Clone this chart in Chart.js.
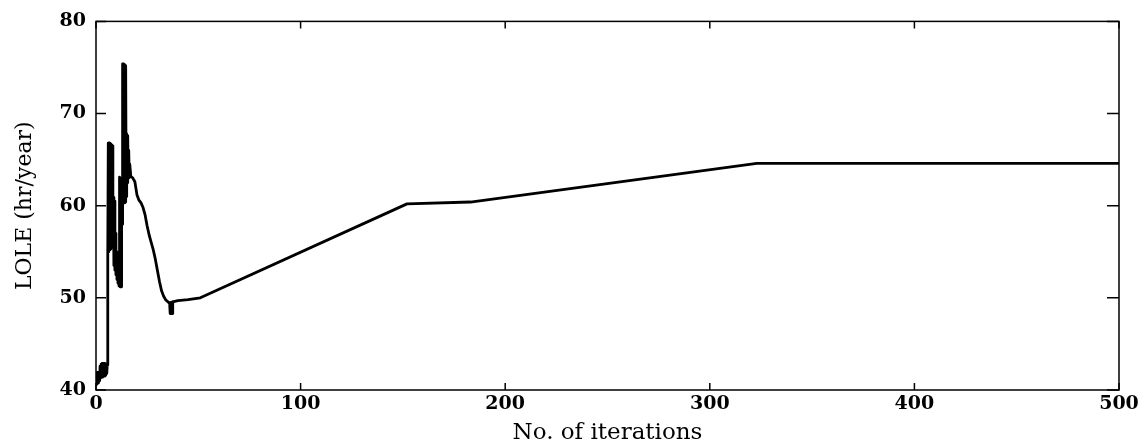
<!DOCTYPE html>
<html>
<head>
<meta charset="utf-8">
<script src="https://cdn.jsdelivr.net/npm/chart.js@4.4.0/dist/chart.umd.min.js"></script>
<style>
    html, body { margin: 0; padding: 0; background: #fff; }
    #wrap { width: 1148px; height: 447px; }
</style>
</head>
<body>
<div id="wrap"><canvas id="loleChart"></canvas></div>
<script>
// LOLE estimate per iteration (sampled densely at the start, where it oscillates)
const iterations = [
    0, 0.25, 0.5, 0.75, 1, 1.25, 1.5, 1.75, 2, 2.25, 2.5, 2.75,
    3, 3.25, 3.5, 3.75, 4, 4.25, 4.5, 4.75, 5, 5.25, 5.5, 5.75,
    6, 6.25, 6.5, 6.75, 7, 7.25, 7.5, 7.75, 8, 8.25, 8.5, 8.75,
    9, 9.25, 9.5, 9.75, 10, 10.25, 10.5, 10.75, 11, 11.25, 11.5, 11.75,
    12, 12.25, 12.5, 12.75, 13, 13.25, 13.5, 13.75, 14, 14.25, 14.5, 14.75,
    15, 15.25, 15.5, 15.75, 16, 16.25, 16.5, 17, 18, 19, 20, 21,
    22, 23, 24, 25, 26, 27, 28, 29, 30, 31, 32, 33,
    34, 35, 36, 36.25, 36.5, 36.75, 37, 37.25, 37.5, 38, 40, 45,
    51, 152, 183, 323, 500];
const lole = [
    41.0, 40.6, 41.9, 40.7, 41.9, 40.8, 41.9, 41.0, 42.6, 41.3, 42.8, 41.4,
    42.9, 41.4, 42.9, 41.5, 42.9, 41.5, 42.8, 41.6, 42.8, 41.8, 42.7, 54.8,
    66.8, 55.0, 66.8, 55.2, 66.7, 55.3, 66.6, 55.5, 66.5, 55.6, 60.9, 53.5,
    60.5, 53.0, 57.0, 52.5, 55.0, 52.0, 54.2, 51.6, 54.0, 51.3, 63.1, 51.2,
    63.0, 51.2, 62.8, 58.0, 75.4, 60.3, 75.4, 60.3, 75.3, 60.4, 75.2, 61.0,
    67.8, 62.5, 67.6, 63.0, 66.0, 63.1, 64.5, 63.2, 63.0, 62.6, 61.2, 60.6,
    60.3, 59.8, 59.0, 57.8, 56.8, 56.0, 55.2, 54.2, 53.0, 51.8, 50.8, 50.2,
    49.8, 49.6, 49.4, 48.3, 49.5, 48.3, 49.5, 48.3, 49.6, 49.6, 49.7, 49.8,
    50.0, 60.2, 60.4, 64.6, 64.6];

const xTickValues = [0, 100, 200, 300, 400, 500];
const yTickValues = [40, 50, 60, 70, 80];
const xTitle = 'No. of iterations';
const yTitle = 'LOLE (hr/year)';

const points = iterations.map((x, i) => ({ x: x, y: lole[i] }));

// box around the plot with inward tick marks on all four sides
const frameTicks = {
    id: 'frameTicks',
    afterDatasetsDraw(chart) {
        const { ctx, chartArea: a, scales: { x, y } } = chart;
        ctx.save();
        ctx.strokeStyle = '#000';
        ctx.lineWidth = 1.5;
        ctx.strokeRect(a.left, a.top, a.right - a.left, a.bottom - a.top);
        ctx.beginPath();
        xTickValues.forEach(v => {
            const px = x.getPixelForValue(v);
            ctx.moveTo(px, a.bottom); ctx.lineTo(px, a.bottom - 7);
            ctx.moveTo(px, a.top); ctx.lineTo(px, a.top + 7);
        });
        yTickValues.forEach(v => {
            const py = y.getPixelForValue(v);
            ctx.moveTo(a.left, py); ctx.lineTo(a.left + 10, py);
            ctx.moveTo(a.right, py); ctx.lineTo(a.right - 12, py);
        });
        ctx.stroke();
        ctx.restore();
    }
};

const tickFont = { family: 'DejaVu Serif', size: 19, weight: 'bold' };

new Chart(document.getElementById('loleChart'), {
    type: 'line',
    data: {
        datasets: [{
            data: points,
            borderColor: '#000',
            borderWidth: 2.8,
            borderJoinStyle: 'round',
            pointRadius: 0,
            tension: 0,
            fill: false
        }]
    },
    options: {
        responsive: true,
        maintainAspectRatio: false,
        animation: false,
        layout: { padding: { top: 21, right: 29, left: 0, bottom: 0 } },
        plugins: { legend: { display: false }, tooltip: { enabled: false } },
        scales: {
            x: {
                type: 'linear',
                min: 0,
                max: 500,
                afterBuildTicks: scale => { scale.ticks = xTickValues.map(v => ({ value: v })); },
                afterFit: scale => { scale.height = 57; },
                grid: { display: false, drawTicks: false },
                border: { display: false },
                ticks: { color: '#000', font: tickFont, padding: 3, maxRotation: 0 },
                title: {
                    display: true, text: xTitle, color: '#000',
                    font: { family: 'DejaVu Serif', size: 23 },
                    padding: { top: 0, bottom: 0 }
                }
            },
            y: {
                type: 'linear',
                min: 40,
                max: 80,
                afterBuildTicks: scale => { scale.ticks = yTickValues.map(v => ({ value: v })); },
                afterFit: scale => { scale.width = 96; },
                grid: { display: false, drawTicks: false },
                border: { display: false },
                ticks: { color: '#000', font: tickFont, padding: 10 },
                title: {
                    display: true, text: yTitle, color: '#000',
                    font: { family: 'DejaVu Serif', size: 22 },
                    padding: { top: 12, bottom: 0 }
                }
            }
        }
    },
    plugins: [frameTicks]
});
</script>
</body>
</html>
